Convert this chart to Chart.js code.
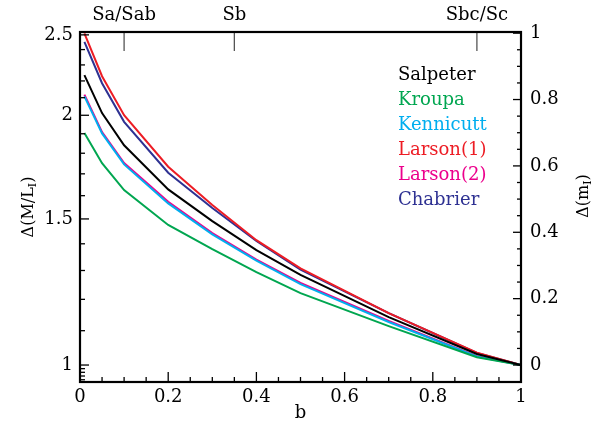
<!DOCTYPE html>
<html>
<head>
<meta charset="utf-8">
<script src="https://cdn.jsdelivr.net/npm/chart.js@4.4.1/dist/chart.umd.min.js"></script>
<style>
  html, body { margin: 0; padding: 0; background: #fff; }
  canvas { display: block; }
</style>
</head>
<body>
<canvas id="imfChart" width="598" height="429"></canvas>
<script>
// bulge fraction b and the M/L offset for each IMF
const bValues = [0.01, 0.05, 0.1, 0.2, 0.3, 0.4, 0.5, 0.7, 0.9, 1.0];
const salpeter = [2.236, 2.012, 1.840, 1.628, 1.491, 1.376, 1.284, 1.142, 1.031, 1.0];
const kroupa = [1.904, 1.751, 1.625, 1.475, 1.379, 1.294, 1.221, 1.114, 1.022, 1.0];
const kennicutt = [2.108, 1.902, 1.745, 1.566, 1.437, 1.336, 1.252, 1.127, 1.024, 1.0];
const larson1 = [2.510, 2.229, 2.000, 1.734, 1.559, 1.414, 1.308, 1.155, 1.035, 1.0];
const larson2 = [2.118, 1.909, 1.752, 1.573, 1.442, 1.340, 1.256, 1.130, 1.025, 1.0];
const chabrier = [2.452, 2.186, 1.964, 1.705, 1.546, 1.411, 1.303, 1.155, 1.034, 1.0];

// axes
const xTicks = [0, 0.2, 0.4, 0.6, 0.8, 1];
const xMinorTicks = [0.05, 0.1, 0.15, 0.25, 0.3, 0.35, 0.45, 0.5, 0.55, 0.65, 0.7, 0.75, 0.85, 0.9, 0.95];
const typeTicks = [0.1, 0.35, 0.9];
const typeLabels = ["Sa/Sab", "Sb", "Sbc/Sc"];
const mlTicks = [1, 1.5, 2, 2.5];
const mlMinorTicks = [0.96, 0.97, 0.98, 0.99, 1.1, 1.2, 1.3, 1.4, 1.6, 1.7, 1.8, 1.9, 2.1, 2.2, 2.3, 2.4];
const magTicks = [0, 0.2, 0.4, 0.6, 0.8, 1];
const magMinorTicks = [0.05, 0.1, 0.15, 0.25, 0.3, 0.35, 0.45, 0.5, 0.55, 0.65, 0.7, 0.75, 0.85, 0.9, 0.95];

const FONT = "DejaVu Serif";
const mlMin = 0.954, mlMax = 2.52;
// right axis is the same range in magnitudes
const magMin = 2.5 * Math.log10(mlMin);
const magMax = 2.5 * Math.log10(mlMax);

function series(label, values, color) {
  return {
    label,
    data: bValues.map((b, i) => ({ x: b, y: values[i] })),
    borderColor: color,
    backgroundColor: color,
    borderWidth: 2,
    pointRadius: 0,
    tension: 0,
    yAxisID: "y"
  };
}

function fixedTicks(values) {
  return scale => { scale.ticks = values.map(v => ({ value: v })); };
}

function drawRich(ctx, parts, x, y) {
  // parts: [text, isSubscript]
  const big = "16px " + FONT, small = "11px " + FONT;
  let total = 0;
  parts.forEach(([t, sub]) => { ctx.font = sub ? small : big; total += ctx.measureText(t).width; });
  let cx = x - total / 2;
  parts.forEach(([t, sub]) => {
    ctx.font = sub ? small : big;
    ctx.fillText(t, cx, sub ? y + 4 : y);
    cx += ctx.measureText(t).width;
  });
}

const decorations = {
  id: "decorations",
  afterDatasetsDraw(chart) {
    const { ctx, chartArea: a, scales } = chart;
    const seg = (x1, y1, x2, y2) => { ctx.beginPath(); ctx.moveTo(x1, y1); ctx.lineTo(x2, y2); ctx.stroke(); };
    ctx.save();
    ctx.strokeStyle = "#000";
    ctx.lineWidth = 1.3;

    // bottom
    xTicks.forEach(v => { const p = scales.x.getPixelForValue(v); seg(p, a.bottom, p, a.bottom - 10); });
    xMinorTicks.forEach(v => { const p = scales.x.getPixelForValue(v); seg(p, a.bottom, p, a.bottom - 5); });
    // left
    mlTicks.forEach(v => { const p = scales.y.getPixelForValue(v); seg(a.left, p, a.left + 9, p); });
    mlMinorTicks.forEach(v => { const p = scales.y.getPixelForValue(v); seg(a.left, p, a.left + 5, p); });
    // right
    magTicks.forEach(v => { const p = scales.y2.getPixelForValue(v); seg(a.right, p, a.right - 8, p); });
    magMinorTicks.forEach(v => { const p = scales.y2.getPixelForValue(v); seg(a.right, p, a.right - 4, p); });
    // top: morphological types
    ctx.strokeStyle = "#555";
    typeTicks.forEach(v => { const p = scales.xTop.getPixelForValue(v); seg(p, a.top, p, a.top + 19); });

    // frame
    ctx.strokeStyle = "#000";
    ctx.lineWidth = 2.2;
    ctx.strokeRect(a.left, a.top, a.right - a.left, a.bottom - a.top);

    // legend
    ctx.font = "18px " + FONT;
    ctx.textAlign = "left";
    ctx.textBaseline = "middle";
    chart.data.datasets.forEach((ds, i) => {
      ctx.fillStyle = ds.borderColor;
      ctx.fillText(ds.label, a.left + 318, a.top + 43 + i * 25);
    });

    // axis titles
    ctx.fillStyle = "#000";
    ctx.textAlign = "center";
    ctx.font = "18px " + FONT;
    ctx.fillText("b", (a.left + a.right) / 2, 413);

    ctx.textAlign = "left";
    ctx.save();
    ctx.translate(29, 207);
    ctx.rotate(-Math.PI / 2);
    drawRich(ctx, [["\u0394(M/L", false], ["I", true], [")", false]], 0, 0);
    ctx.restore();

    ctx.save();
    ctx.translate(584, 196);
    ctx.rotate(-Math.PI / 2);
    drawRich(ctx, [["\u0394(m", false], ["I", true], [")", false]], 0, 0);
    ctx.restore();

    ctx.restore();
  }
};

const tickFont = { family: FONT, size: 18 };

new Chart(document.getElementById("imfChart"), {
  type: "line",
  data: {
    datasets: [
      series("Salpeter", salpeter, "#000000"),
      series("Kroupa", kroupa, "#00a650"),
      series("Kennicutt", kennicutt, "#00aeef"),
      series("Larson(1)", larson1, "#ed1c24"),
      series("Larson(2)", larson2, "#ec008c"),
      series("Chabrier", chabrier, "#2e3192")
    ]
  },
  options: {
    responsive: false,
    animation: false,
    layout: { padding: 0 },
    plugins: { legend: { display: false }, tooltip: { enabled: false } },
    scales: {
      x: {
        type: "linear",
        position: "bottom",
        min: 0,
        max: 1,
        afterBuildTicks: fixedTicks(xTicks),
        afterFit: s => { s.height = 47; },
        grid: { display: false, drawTicks: false },
        border: { display: false },
        ticks: {
          autoSkip: false, maxRotation: 0, padding: 5, color: "#000", font: tickFont,
          callback: v => (v === 0 || v === 1) ? String(v) : v.toFixed(1)
        }
      },
      xTop: {
        type: "linear",
        position: "top",
        min: 0,
        max: 1,
        afterBuildTicks: fixedTicks(typeTicks),
        afterFit: s => { s.height = 32; },
        grid: { display: false, drawTicks: false },
        border: { display: false },
        ticks: {
          autoSkip: false, maxRotation: 0, padding: 6, color: "#000", font: tickFont,
          callback: (v, i) => typeLabels[i]
        }
      },
      y: {
        type: "logarithmic",
        position: "left",
        min: mlMin,
        max: mlMax,
        afterBuildTicks: fixedTicks(mlTicks),
        afterFit: s => { s.width = 80; },
        grid: { display: false, drawTicks: false },
        border: { display: false },
        ticks: { autoSkip: false, padding: 7, color: "#000", font: tickFont, callback: v => String(v) }
      },
      y2: {
        type: "linear",
        position: "right",
        min: magMin,
        max: magMax,
        afterBuildTicks: fixedTicks(magTicks),
        afterFit: s => { s.width = 77; },
        grid: { display: false, drawTicks: false },
        border: { display: false },
        ticks: {
          autoSkip: false, padding: 9, color: "#000", font: tickFont,
          callback: v => (v === 0 || v === 1) ? String(v) : v.toFixed(1)
        }
      }
    }
  },
  plugins: [decorations]
});
</script>
</body>
</html>
